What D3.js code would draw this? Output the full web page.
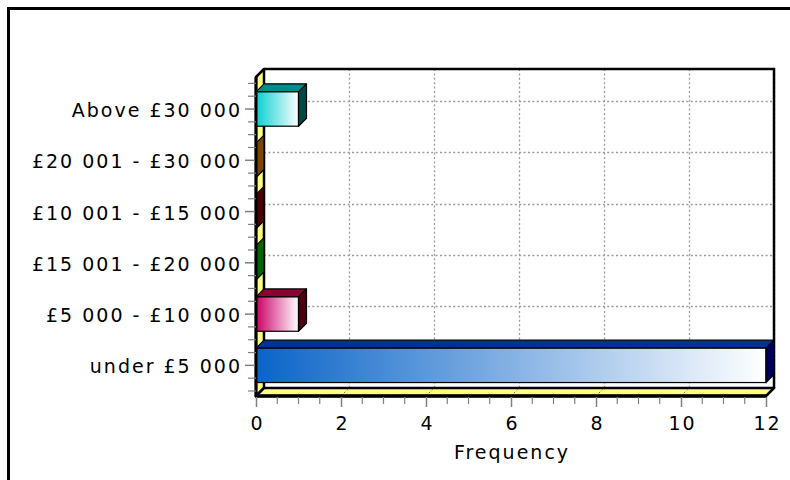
<!DOCTYPE html>
<html>
<head>
<meta charset="utf-8">
<script src="https://cdn.jsdelivr.net/npm/d3@7"></script>
<style>
  html, body { margin: 0; padding: 0; background: #fff; }
  svg { display: block; }
  text { font-family: "DejaVu Sans", Verdana, sans-serif; fill: #000; letter-spacing: 2px; }
</style>
</head>
<body>
<svg id="chart" width="790" height="480"></svg>
<script>
// Income bands, top to bottom, with their frequencies
const categories = [
  "Above £30 000",
  "£20 001 - £30 000",
  "£10 001 - £15 000",
  "£15 001 - £20 000",
  "£5 000 - £10 000",
  "under £5 000"
];
const frequencies = [1, 0, 0, 0, 1, 12];
const xTicks = [0, 2, 4, 6, 8, 10, 12];
const axisTitle = "Frequency";

// Face colours for each bar: front gradient start, top face, side face
const frontColors = ["#08d0d0", "#7a4500", "#4a0000", "#006400", "#cc0066", "#0a64c8"];
const topColors   = ["#008c8c", "#7a4500", "#4a0000", "#006400", "#8c0033", "#00309a"];
const sideColors  = ["#004848", "#7a4500", "#4a0000", "#006400", "#4d0010", "#00005a"];

const svg = d3.select("#chart");
const defs = svg.append("defs");
const FONT = 19;

// 3D depth offset of the plot box
const DX = 8, DY = -8;
const front = { left: 256, right: 766, top: 77, bottom: 396 };

const x = d3.scaleLinear().domain([0, 12]).range([front.left, front.right]);
const y = d3.scaleBand().domain(categories).range([83.4, 391]).paddingInner(0.33).paddingOuter(0.165);
const yc = d => y(d) + y.bandwidth() / 2;

// Outer frame
svg.append("rect").attr("x", 8.5).attr("y", 8.5).attr("width", 800).attr("height", 500)
  .attr("fill", "none").attr("stroke", "#000").attr("stroke-width", 3);

// Back wall
const back = { left: front.left + DX, right: front.right + DX, top: front.top + DY, bottom: front.bottom + DY };
svg.append("rect").attr("x", back.left).attr("y", back.top)
  .attr("width", back.right - back.left).attr("height", back.bottom - back.top)
  .attr("fill", "#fff");

// Back-wall grid
const grid = svg.append("g").attr("stroke", "#9a9a9a").attr("stroke-width", 1.3)
  .attr("stroke-dasharray", "2,2.4").attr("fill", "none");
grid.selectAll("line.v").data(xTicks.slice(1)).join("line")
  .attr("x1", d => Math.round(x(d) + DX) + 0.5).attr("x2", d => Math.round(x(d) + DX) + 0.5)
  .attr("y1", back.top).attr("y2", back.bottom);
grid.selectAll("line.h").data(categories).join("line")
  .attr("x1", back.left).attr("x2", back.right)
  .attr("y1", d => Math.round(yc(d) + DY) + 0.5).attr("y2", d => Math.round(yc(d) + DY) + 0.5);

// Back wall top and right edges
svg.append("path")
  .attr("d", `M${back.left},${back.top}H${back.right}V${back.bottom}`)
  .attr("fill", "none").attr("stroke", "#000").attr("stroke-width", 2.5);

// Left wall
svg.append("path")
  .attr("d", `M${front.left},${front.top}L${back.left},${back.top}L${back.left},${back.bottom}L${front.left},${front.bottom}Z`)
  .attr("fill", "#ffff80").attr("stroke", "#000").attr("stroke-width", 2.5).attr("stroke-linejoin", "round");

// Floor
svg.append("path")
  .attr("d", `M${front.left},${front.bottom}L${front.right},${front.bottom}L${back.right},${back.bottom}L${back.left},${back.bottom}Z`)
  .attr("fill", "#ffff80").attr("stroke", "#000").attr("stroke-width", 2.5).attr("stroke-linejoin", "round");
svg.append("g").attr("stroke", "#777").attr("stroke-width", 1).attr("stroke-dasharray", "2,2")
  .selectAll("line").data(xTicks.slice(1, -1)).join("line")
  .attr("x1", d => x(d)).attr("y1", front.bottom).attr("x2", d => x(d) + DX).attr("y2", back.bottom);

// Bars
const rows = categories.map((c, i) => ({ c, v: frequencies[i], i }));
rows.forEach(r => {
  const g = defs.append("linearGradient").attr("id", "grad" + r.i)
    .attr("x1", "0%").attr("x2", "100%").attr("y1", "0%").attr("y2", "0%");
  g.append("stop").attr("offset", "0%").attr("stop-color", frontColors[r.i]);
  g.append("stop").attr("offset", "100%").attr("stop-color", "#ffffff");
});

const bars = svg.append("g").selectAll("g").data(rows).join("g");
bars.each(function (r) {
  const g = d3.select(this);
  const x0 = x(0), x1 = x(r.v);
  const t = y(r.c), b = y(r.c) + y.bandwidth();
  if (r.v > 0) {
    g.append("path")
      .attr("d", `M${x0},${t}L${x0 + DX},${t + DY}L${x1 + DX},${t + DY}L${x1},${t}Z`)
      .attr("fill", topColors[r.i]).attr("stroke", "#000").attr("stroke-width", 1.2).attr("stroke-linejoin", "round");
    g.append("rect").attr("x", x0).attr("y", t).attr("width", x1 - x0).attr("height", b - t)
      .attr("fill", `url(#grad${r.i})`).attr("stroke", "#000").attr("stroke-width", 1.2);
  }
  g.append("path")
    .attr("d", `M${x1},${t}L${x1 + DX},${t + DY}L${x1 + DX},${b + DY}L${x1},${b}Z`)
    .attr("fill", sideColors[r.i]).attr("stroke", "#000").attr("stroke-width", 1.2).attr("stroke-linejoin", "round");
});

// Front axis lines
svg.append("line").attr("x1", front.left).attr("x2", front.left).attr("y1", front.top).attr("y2", front.bottom + 1)
  .attr("stroke", "#000").attr("stroke-width", 3);
svg.append("line").attr("x1", front.left - 1).attr("x2", front.right + 1).attr("y1", front.bottom).attr("y2", front.bottom)
  .attr("stroke", "#000").attr("stroke-width", 3.5);

// X axis with major and minor ticks
const xAxis = d3.axisBottom(x).tickValues(xTicks).tickSize(10).tickPadding(10).tickFormat(d3.format("d"));
const gx = svg.append("g").attr("transform", `translate(0,${front.bottom + 1})`).call(xAxis);
gx.select(".domain").remove();
gx.selectAll(".tick line").attr("stroke", "#808080").attr("stroke-width", 1.5);
gx.selectAll("text").attr("font-size", FONT).attr("font-family", "DejaVu Sans").attr("dx", 1);
svg.append("g").attr("stroke", "#808080").attr("stroke-width", 1.2)
  .selectAll("line").data(d3.range(0.5, 12, 0.5).filter(v => v % 2 !== 0)).join("line")
  .attr("x1", d => x(d)).attr("x2", d => x(d)).attr("y1", front.bottom + 1).attr("y2", front.bottom + 8);

// Y axis with category labels and quarter-band minor ticks
const yAxis = d3.axisLeft(y).tickSize(10).tickPadding(3);
const gy = svg.append("g").attr("transform", `translate(${front.left - 1},0)`).call(yAxis);
gy.select(".domain").remove();
gy.selectAll(".tick line").attr("stroke", "#808080").attr("stroke-width", 1.5);
gy.selectAll("text").attr("font-size", FONT).attr("font-family", "DejaVu Sans").attr("dy", "0.42em");
const step = y.step();
const minor = [];
for (let k = 0; k <= categories.length * 4; k++) if (k % 4 !== 2) minor.push(y.range()[0] + k * step / 4);
svg.append("g").attr("stroke", "#808080").attr("stroke-width", 1.2)
  .selectAll("line").data(minor).join("line")
  .attr("x1", front.left - 8).attr("x2", front.left).attr("y1", d => d).attr("y2", d => d);

// Axis title
svg.append("text").attr("x", (front.left + front.right) / 2 + 1).attr("y", 459)
  .attr("text-anchor", "middle").attr("font-size", FONT).text(axisTitle);
</script>
</body>
</html>
